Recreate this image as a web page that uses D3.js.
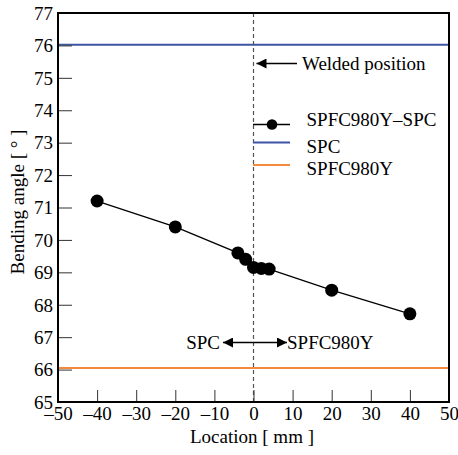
<!DOCTYPE html>
<html>
<head>
<meta charset="utf-8">
<script src="https://cdn.jsdelivr.net/npm/d3@7"></script>
<style>
  html, body { margin: 0; padding: 0; background: #fff; }
  svg { display: block; }
  svg text { font-family: 'Liberation Serif', 'Times New Roman', serif; font-size: 19px; fill: #000; }
</style>
</head>
<body>
<svg id="chart" width="458" height="455"></svg>
<script>
// Bending angle across the welded joint
const locations = [-40, -20, -4, -2, 0, 2, 4, 20, 40];
const jointAngles = [71.2, 70.4, 69.6, 69.4, 69.15, 69.12, 69.1, 68.45, 67.72];
const spcAngle = 76.02;
const spfcAngle = 66.05;
const xTicks = [-50, -40, -30, -20, -10, 0, 10, 20, 30, 40, 50];
const yTicks = [65, 66, 67, 68, 69, 70, 71, 72, 73, 74, 75, 76, 77];
const legendLabels = ["SPFC980Y\u2013SPC", "SPC", "SPFC980Y"];

const margin = { left: 58, right: 9, top: 13, bottom: 53 };
const W = 458, H = 455;
const svg = d3.select("#chart");

const x = d3.scaleLinear().domain([-50, 50]).range([margin.left, W - margin.right]);
const y = d3.scaleLinear().domain([65, 77]).range([H - margin.bottom, margin.top]);

const blue = "#3d55a5", orange = "#f58a3c";

// filled arrowhead
svg.append("defs").append("marker")
  .attr("id", "head").attr("viewBox", "0 0 10 10")
  .attr("refX", 10).attr("refY", 5)
  .attr("markerWidth", 15).attr("markerHeight", 10)
  .attr("markerUnits", "userSpaceOnUse")
  .attr("orient", "auto-start-reverse")
  .append("path").attr("d", "M0,0 L10,5 L0,10 Z").attr("fill", "#000");

// base-material reference levels
svg.append("line")
  .attr("x1", x(-50)).attr("x2", x(50)).attr("y1", y(spcAngle)).attr("y2", y(spcAngle))
  .attr("stroke", blue).attr("stroke-width", 2);
svg.append("line")
  .attr("x1", x(-50)).attr("x2", x(50)).attr("y1", y(spfcAngle)).attr("y2", y(spfcAngle))
  .attr("stroke", orange).attr("stroke-width", 2);

// welded position
svg.append("line")
  .attr("x1", x(0)).attr("x2", x(0)).attr("y1", y(77)).attr("y2", y(65))
  .attr("stroke", "#555").attr("stroke-width", 1.2).attr("stroke-dasharray", "4,3");

// axes, ticks pointing inward
const yAxis = d3.axisLeft(y).tickValues(yTicks).tickSize(-14).tickPadding(5).tickFormat(d3.format("d"));
const gy = svg.append("g").attr("transform", `translate(${margin.left},0)`).call(yAxis);
const xAxis = d3.axisBottom(x).tickValues(xTicks).tickSize(-12).tickPadding(5)
  .tickFormat(d => d < 0 ? "\u2013" + Math.abs(d) : d);
const gx = svg.append("g").attr("transform", `translate(0,${H - margin.bottom})`).call(xAxis);
[gx, gy].forEach(g => {
  g.attr("font-family", null).attr("font-size", null);
  g.select(".domain").remove();
  g.selectAll(".tick line").attr("stroke", "#333").attr("stroke-width", 1);
});
gy.selectAll(".tick text").attr("dy", "0.33em");
gx.selectAll(".tick text").attr("dy", "0.68em");
gx.selectAll(".tick").filter(d => d === -50 || d === 50).select("line").remove();
gy.selectAll(".tick").filter(d => d === 65 || d === 77).select("line").remove();

// measured series
const line = d3.line().x((d, i) => x(locations[i])).y(d => y(d));
svg.append("path").datum(jointAngles)
  .attr("d", line).attr("fill", "none").attr("stroke", "#000").attr("stroke-width", 1.3);
svg.append("g").selectAll("circle").data(jointAngles).join("circle")
  .attr("cx", (d, i) => x(locations[i])).attr("cy", d => y(d)).attr("r", 6.5).attr("fill", "#000");

// frame
svg.append("rect")
  .attr("x", x(-50)).attr("y", y(77)).attr("width", x(50) - x(-50)).attr("height", y(65) - y(77))
  .attr("fill", "none").attr("stroke", "#000").attr("stroke-width", 2);

// annotations
svg.append("line")
  .attr("x1", 297).attr("x2", x(0) + 3).attr("y1", 63.5).attr("y2", 63.5)
  .attr("stroke", "#000").attr("stroke-width", 1.6).attr("marker-end", "url(#head)");
svg.append("text").attr("x", 302).attr("y", 69.5).text("Welded position");

svg.append("line")
  .attr("x1", 223).attr("x2", 287).attr("y1", 342.5).attr("y2", 342.5)
  .attr("stroke", "#000").attr("stroke-width", 1.6)
  .attr("marker-start", "url(#head)").attr("marker-end", "url(#head)");
svg.append("text").attr("x", 220).attr("y", 348.5).attr("text-anchor", "end").text("SPC");
svg.append("text").attr("x", 287).attr("y", 348.5).text("SPFC980Y");

// legend
const legendY = [124.5, 142.5, 165];
const legendTextY = [125.5, 152.5, 175];
const legendColors = ["#000", blue, orange];
legendLabels.forEach((lab, i) => {
  svg.append("line").attr("x1", 253).attr("x2", 290)
    .attr("y1", legendY[i]).attr("y2", legendY[i])
    .attr("stroke", legendColors[i]).attr("stroke-width", i === 0 ? 1.3 : 2);
  if (i === 0) svg.append("circle").attr("cx", 272).attr("cy", legendY[i]).attr("r", 5.3).attr("fill", "#000");
  svg.append("text").attr("x", 306.5).attr("y", legendTextY[i]).text(lab);
});

// axis titles
svg.append("text").attr("x", 252).attr("y", 443).attr("text-anchor", "middle").text("Location [ mm ]");
svg.append("text").attr("transform", "translate(24,202) rotate(-90)")
  .attr("text-anchor", "middle").text("Bending angle [ \u00b0 ]");
</script>
</body>
</html>
